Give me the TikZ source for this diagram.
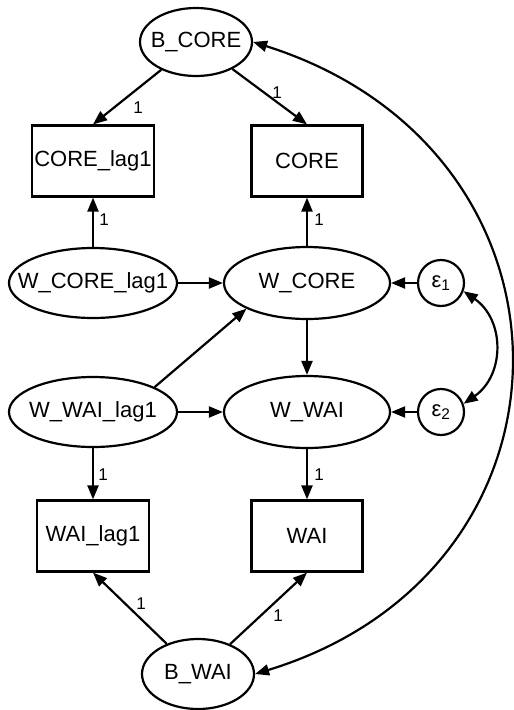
\documentclass[tikz,border=0pt]{standalone}
\usepackage{fontspec}
\setmainfont{Liberation Sans}
\usetikzlibrary{shapes.geometric,arrows.meta}
\newlength{\du}
\setlength{\du}{1pt}

\begin{document}
\begin{tikzpicture}[
  latent/.style={ellipse,draw,line width=2.2\du,inner xsep=-20\du,inner ysep=0pt,font=\fontsize{22}{26}\selectfont},
  observed/.style={rectangle,draw,line width=2.2\du,inner sep=0pt,minimum height=71\du,font=\fontsize{22}{26}\selectfont},
  errvar/.style={circle,draw,line width=2.2\du,inner sep=0pt,minimum size=46\du,font=\fontsize{22}{26}\selectfont},
  regpath/.style={line width=2.2\du,-{Triangle[length=14pt,width=11pt]}},
  covpath/.style={line width=2.2\du,{Triangle[length=14pt,width=11pt]}-{Triangle[length=14pt,width=11pt]}},
  loadlbl/.style={font=\fontsize{17}{20}\selectfont,inner sep=1\du}
]
\pgftransformxscale{1.000000}
\pgftransformyscale{-1.000000}
\useasboundingbox (0\du,0\du) rectangle (514\du,710\du);
% between factors
\node[latent,minimum width=112\du,minimum height=68\du] (bcore) at (196\du,42\du) {B\_CORE};
\node[latent,minimum width=112\du,minimum height=70\du] (bwai) at (198\du,674\du) {B\_WAI};
% observed
\node[observed,minimum width=122\du] (corelag1) at (93\du,161\du) {CORE\_lag1};
\node[observed,minimum width=111\du] (core) at (307\du,161\du) {CORE};
\node[observed,minimum width=112\du] (wailag1) at (93\du,536\du) {WAI\_lag1};
\node[observed,minimum width=111\du] (wai) at (307\du,536\du) {WAI};
% within factors
\node[latent,minimum width=168\du,minimum height=70\du] (wcorelag1) at (93\du,283\du) {W\_CORE\_lag1};
\node[latent,minimum width=166\du,minimum height=72\du] (wcore) at (307\du,283\du) {W\_CORE};
\node[latent,minimum width=168\du,minimum height=70\du] (wwailag1) at (93\du,412\du) {W\_WAI\_lag1};
\node[latent,minimum width=166\du,minimum height=72\du] (wwai) at (307\du,412\du) {W\_WAI};
% residuals
\node[errvar] (e1) at (441\du,283\du) {ε\textsubscript{1}};
\node[errvar] (e2) at (441\du,412\du) {ε\textsubscript{2}};
% loadings
\draw[regpath] (bcore) -- (corelag1.north);
\draw[regpath] (bcore) -- (core.north);
\draw[regpath] (wcorelag1) -- (corelag1);
\draw[regpath] (wcore) -- (core);
\draw[regpath] (wwailag1) -- (wailag1);
\draw[regpath] (wwai) -- (wai);
\draw[regpath] (bwai) -- (wailag1.south);
\draw[regpath] (bwai) -- (wai.south);
\node[loadlbl] (l1) at (138\du,108\du) {1};
\node[loadlbl] (l2) at (277\du,93\du) {1};
\node[loadlbl] (l3) at (104\du,220\du) {1};
\node[loadlbl] (l4) at (319\du,220\du) {1};
\node[loadlbl] (l5) at (103\du,475\du) {1};
\node[loadlbl] (l6) at (319\du,475\du) {1};
\node[loadlbl] (l7) at (141\du,604\du) {1};
\node[loadlbl] (l8) at (278\du,616\du) {1};
% regressions
\draw[regpath] (wcorelag1) -- (wcore);
\draw[regpath] (wwailag1.22) -- (wcore.203);
\draw[regpath] (wwailag1) -- (wwai);
\draw[regpath] (wcore) -- (wwai);
\draw[regpath] (e1) -- (wcore);
\draw[regpath] (e2) -- (wwai);
% covariances
\draw[covpath] (bcore.east) .. controls (595\du,150\du) and (595\du,570\du) .. (bwai.east);
\draw[covpath] (e1.-20) .. controls (505\du,320\du) and (505\du,375\du) .. (e2.20);
\end{tikzpicture}
\end{document}
